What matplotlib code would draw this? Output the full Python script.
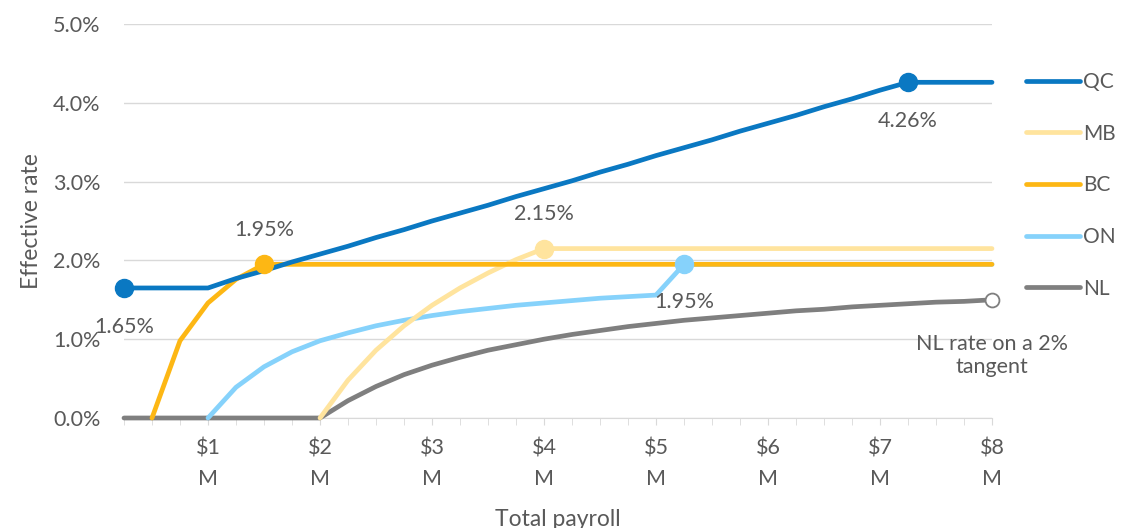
import matplotlib
matplotlib.use("Agg")
import matplotlib.pyplot as plt
from matplotlib.ticker import FuncFormatter, MultipleLocator

plt.rcParams['font.family'] = ['Lato', 'DejaVu Sans']

# Payroll in $ millions, in quarter-million steps
payroll = [0.25, 0.5, 0.75, 1.0, 1.25, 1.5, 1.75, 2.0, 2.25, 2.5, 2.75, 3.0,
           3.25, 3.5, 3.75, 4.0, 4.25, 4.5, 4.75, 5.0, 5.25, 5.5, 5.75, 6.0,
           6.25, 6.5, 6.75, 7.0, 7.25, 7.5, 7.75, 8.0]

# Effective payroll tax rate (%) by province
qc = [1.65, 1.65, 1.65, 1.65, 1.77, 1.87, 1.98, 2.08, 2.18, 2.29, 2.39, 2.50,
      2.60, 2.70, 2.81, 2.91, 3.01, 3.12, 3.22, 3.33, 3.43, 3.53, 3.64, 3.74,
      3.84, 3.95, 4.05, 4.16, 4.26, 4.26, 4.26, 4.26]
mb = [None, None, None, None, None, None, None, 0.0, 0.48, 0.86, 1.17, 1.43,
      1.65, 1.84, 2.01, 2.15, 2.15, 2.15, 2.15, 2.15, 2.15, 2.15, 2.15, 2.15,
      2.15, 2.15, 2.15, 2.15, 2.15, 2.15, 2.15, 2.15]
bc = [None, 0.0, 0.98, 1.46, 1.76, 1.95, 1.95, 1.95, 1.95, 1.95, 1.95, 1.95,
      1.95, 1.95, 1.95, 1.95, 1.95, 1.95, 1.95, 1.95, 1.95, 1.95, 1.95, 1.95,
      1.95, 1.95, 1.95, 1.95, 1.95, 1.95, 1.95, 1.95]
on = [None, None, None, 0.0, 0.39, 0.65, 0.84, 0.98, 1.08, 1.17, 1.24, 1.30,
      1.35, 1.39, 1.43, 1.46, 1.49, 1.52, 1.54, 1.56, 1.95, 1.95, 1.95, 1.95,
      1.95, 1.95, 1.95, 1.95, 1.95, 1.95, 1.95, 1.95]
nl = [0.0, 0.0, 0.0, 0.0, 0.0, 0.0, 0.0, 0.0, 0.22, 0.40, 0.55, 0.67,
      0.77, 0.86, 0.93, 1.00, 1.06, 1.11, 1.16, 1.20, 1.24, 1.27, 1.30, 1.33,
      1.36, 1.38, 1.41, 1.43, 1.45, 1.47, 1.48, 1.50]

xtick_vals = [1, 2, 3, 4, 5, 6, 7, 8]
xtick_labels = [f"${v}\nM" for v in xtick_vals]

colors = {
    'QC': '#0A78C2',
    'MB': '#FFE49E',
    'BC': '#FDB714',
    'ON': '#86D2FB',
    'NL': '#7F7F7F',
}
text_color = '#595959'

fig = plt.figure(figsize=(11.23, 5.28), dpi=100)
ax = fig.add_axes([124 / 1123, 1 - 418 / 528, (992 - 124) / 1123, (418 - 24) / 528])


def series(xs, ys):
    pts = [(x, y) for x, y in zip(xs, ys) if y is not None]
    return [p[0] for p in pts], [p[1] for p in pts]


lw = 3.4
order = [('NL', nl), ('ON', on), ('MB', mb), ('BC', bc), ('QC', qc)]
handles = {}
for name, vals in order:
    xs, ys = series(payroll, vals)
    ln, = ax.plot(xs, ys, color=colors[name], lw=lw, solid_capstyle='round',
                  solid_joinstyle='round', label=name, zorder=3, clip_on=False)
    handles[name] = ln

# Highlighted points
ms = 13
ax.plot(payroll[0], qc[0], 'o', color=colors['QC'], ms=ms, zorder=5, clip_on=False)
ax.plot(7.25, qc[payroll.index(7.25)], 'o', color=colors['QC'], ms=ms, zorder=5)
ax.plot(1.5, bc[payroll.index(1.5)], 'o', color=colors['BC'], ms=ms, zorder=5)
ax.plot(4.0, mb[payroll.index(4.0)], 'o', color=colors['MB'], ms=ms, zorder=5)
ax.plot(5.25, on[payroll.index(5.25)], 'o', color=colors['ON'], ms=ms, zorder=5)
ax.plot(8.0, nl[-1], 'o', mfc='white', mec=colors['NL'], mew=1.3, ms=10,
        zorder=5, clip_on=False)

# Point labels
fs = 15.5
def label(x, y, txt, dy):
    ax.annotate(txt, (x, y), xytext=(0, dy), textcoords='offset points',
                ha='center', va='center', fontsize=fs, color=text_color, zorder=6)

label(payroll[0], qc[0], f"{qc[0]:.2f}%", -28)
label(1.5, bc[payroll.index(1.5)], f"{bc[payroll.index(1.5)]:.2f}%", 25)
label(4.0, mb[payroll.index(4.0)], f"{mb[payroll.index(4.0)]:.2f}%", 25)
label(5.25, on[payroll.index(5.25)], f"{on[payroll.index(5.25)]:.2f}%", -27)
label(7.25, qc[payroll.index(7.25)], f"{qc[payroll.index(7.25)]:.2f}%", -28)
ax.annotate("NL rate on a 2%\ntangent", (8.0, nl[-1]), xytext=(0, -40),
            textcoords='offset points', ha='center', va='center',
            fontsize=fs, color=text_color, linespacing=1.15, zorder=6)

# Axes styling
ax.set_xlim(0.25, 8.0)
ax.set_ylim(0, 5)
ax.yaxis.set_major_locator(MultipleLocator(1))
ax.yaxis.set_major_formatter(FuncFormatter(lambda v, p: f"{v:.1f}%"))
ax.grid(axis='y', color='#D9D9D9', lw=1.0, zorder=0)
ax.set_axisbelow(True)
for s in ['top', 'right', 'left']:
    ax.spines[s].set_visible(False)
ax.spines['bottom'].set_color('#D9D9D9')
ax.tick_params(axis='y', length=0, labelsize=fs, labelcolor=text_color, pad=17)

ax.set_xticks(xtick_vals)
ax.set_xticklabels(xtick_labels, linespacing=1.65)
ax.set_xticks(payroll, minor=True)
ax.tick_params(axis='x', which='both', length=5, color='#D9D9D9',
               labelsize=fs, labelcolor=text_color, pad=10)

ax.set_xlabel("Total payroll", fontsize=fs + 1, color=text_color, labelpad=14)
ax.set_ylabel("Effective rate", fontsize=fs + 1, color=text_color, labelpad=8)

# Legend
leg = fig.legend([handles[n] for n in ['QC', 'MB', 'BC', 'ON', 'NL']],
                 ['QC', 'MB', 'BC', 'ON', 'NL'],
                 loc='upper left', bbox_to_anchor=(1026 / 1123, 1 - 72 / 528),
                 frameon=False, fontsize=15, labelcolor=text_color,
                 handlelength=2.6, handletextpad=0.12, labelspacing=1.52,
                 borderaxespad=0, borderpad=0)

fig.savefig("out.png", dpi=100)
